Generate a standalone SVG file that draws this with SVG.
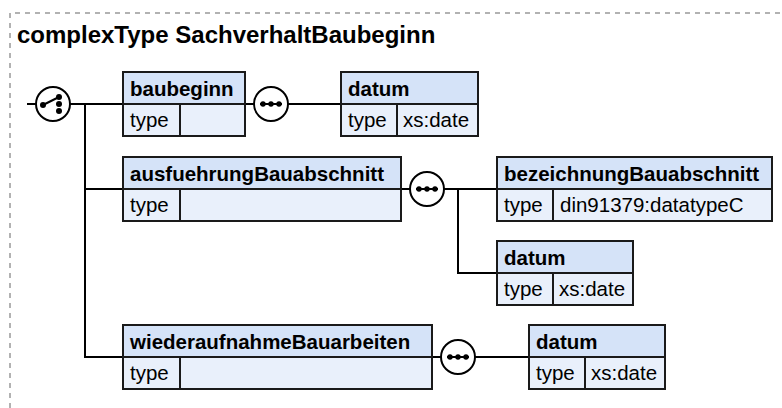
<svg xmlns="http://www.w3.org/2000/svg" width="782" height="408" viewBox="0 0 782 408">
<style>
.hd{fill:#d5e3f8;stroke:none}
.bd{fill:#e9f0fb;stroke:none}
.bx{fill:none;stroke:#1a1a1a;stroke-width:2}
.t{font-family:"Liberation Sans",Arial,sans-serif;font-size:20.5px;fill:#000}
.b{font-weight:bold}
.ln{fill:none;stroke:#000;stroke-width:2}
.ci{fill:#fff;stroke:#000;stroke-width:2}
.dot{fill:#000}
</style>
<path d="M10 408 V13 H782" fill="none" stroke="#999" stroke-width="1.5" stroke-dasharray="5 5"/>
<text x="17" y="43" class="t b" style="font-size:24px">complexType SachverhaltBaubeginn</text>
<g id="connectors">
<path class="ln" d="M27 104 H36 M70 104 H123 M85 104 V357 H123 M85 189 H123"/>
<path class="ln" d="M245 104 H254 M288 104 H341"/>
<path class="ln" d="M401 189 H410 M444 189 H497 M458 189 V273 H497"/>
<path class="ln" d="M432 357 H441 M475 357 H529"/>
</g>
<g id="choice">
<circle class="ci" cx="53" cy="104" r="17"/>
<path class="ln" d="M43 105 L59 97"/>
<circle class="dot" cx="43" cy="105" r="3"/>
<circle class="dot" cx="59" cy="97" r="3"/>
<circle class="dot" cx="59" cy="104" r="3"/>
<circle class="dot" cx="59" cy="111" r="3"/>
</g>
<g id="seq1">
<circle class="ci" cx="271" cy="104" r="17"/>
<path class="ln" d="M260 104 H282"/>
<circle class="dot" cx="263" cy="104" r="2.7"/><circle class="dot" cx="271" cy="104" r="2.7"/><circle class="dot" cx="279" cy="104" r="2.7"/>
</g>
<g id="seq2">
<circle class="ci" cx="427" cy="189" r="17"/>
<path class="ln" d="M416 189 H438"/>
<circle class="dot" cx="419" cy="189" r="2.7"/><circle class="dot" cx="427" cy="189" r="2.7"/><circle class="dot" cx="435" cy="189" r="2.7"/>
</g>
<g id="seq3">
<circle class="ci" cx="458" cy="357" r="17"/>
<path class="ln" d="M447 357 H469"/>
<circle class="dot" cx="450" cy="357" r="2.7"/><circle class="dot" cx="458" cy="357" r="2.7"/><circle class="dot" cx="466" cy="357" r="2.7"/>
</g>
<g id="baubeginn">
<rect class="hd" x="123" y="72" width="122" height="32"/>
<rect class="bd" x="123" y="104" width="122" height="32"/>
<path class="bx" d="M123 72 H245 V136 H123 Z M123 104 H245 M180 104 V136"/>
<text class="t b" x="130" y="96">baubeginn</text>
<text class="t" x="130" y="127">type</text>
</g>
<g id="datum1">
<rect class="hd" x="341" y="72" width="137" height="32"/>
<rect class="bd" x="341" y="104" width="137" height="32"/>
<path class="bx" d="M341 72 H478 V136 H341 Z M341 104 H478 M397 104 V136"/>
<text class="t b" x="348" y="96">datum</text>
<text class="t" x="348" y="127">type</text>
<text class="t" x="403" y="127">xs:date</text>
</g>
<g id="ausfuehrungBauabschnitt">
<rect class="hd" x="123" y="157" width="278" height="32"/>
<rect class="bd" x="123" y="189" width="278" height="32"/>
<path class="bx" d="M123 157 H401 V221 H123 Z M123 189 H401 M180 189 V221"/>
<text class="t b" x="130" y="181">ausfuehrungBauabschnitt</text>
<text class="t" x="130" y="212">type</text>
</g>
<g id="bezeichnungBauabschnitt">
<rect class="hd" x="497" y="157" width="275" height="32"/>
<rect class="bd" x="497" y="189" width="275" height="32"/>
<path class="bx" d="M497 157 H772 V221 H497 Z M497 189 H772 M553 189 V221"/>
<text class="t b" x="504" y="181">bezeichnungBauabschnitt</text>
<text class="t" x="504" y="212">type</text>
<text class="t" x="560" y="212">din91379:datatypeC</text>
</g>
<g id="datum2">
<rect class="hd" x="497" y="241" width="136" height="32"/>
<rect class="bd" x="497" y="273" width="136" height="32"/>
<path class="bx" d="M497 241 H633 V305 H497 Z M497 273 H633 M553 273 V305"/>
<text class="t b" x="504" y="265">datum</text>
<text class="t" x="504" y="296">type</text>
<text class="t" x="559" y="296">xs:date</text>
</g>
<g id="wiederaufnahmeBauarbeiten">
<rect class="hd" x="123" y="325" width="309" height="32"/>
<rect class="bd" x="123" y="357" width="309" height="32"/>
<path class="bx" d="M123 325 H432 V389 H123 Z M123 357 H432 M180 357 V389"/>
<text class="t b" x="130" y="349">wiederaufnahmeBauarbeiten</text>
<text class="t" x="130" y="380">type</text>
</g>
<g id="datum3">
<rect class="hd" x="529" y="325" width="136" height="32"/>
<rect class="bd" x="529" y="357" width="136" height="32"/>
<path class="bx" d="M529 325 H665 V389 H529 Z M529 357 H665 M585 357 V389"/>
<text class="t b" x="536" y="349">datum</text>
<text class="t" x="536" y="380">type</text>
<text class="t" x="591" y="380">xs:date</text>
</g>
</svg>
